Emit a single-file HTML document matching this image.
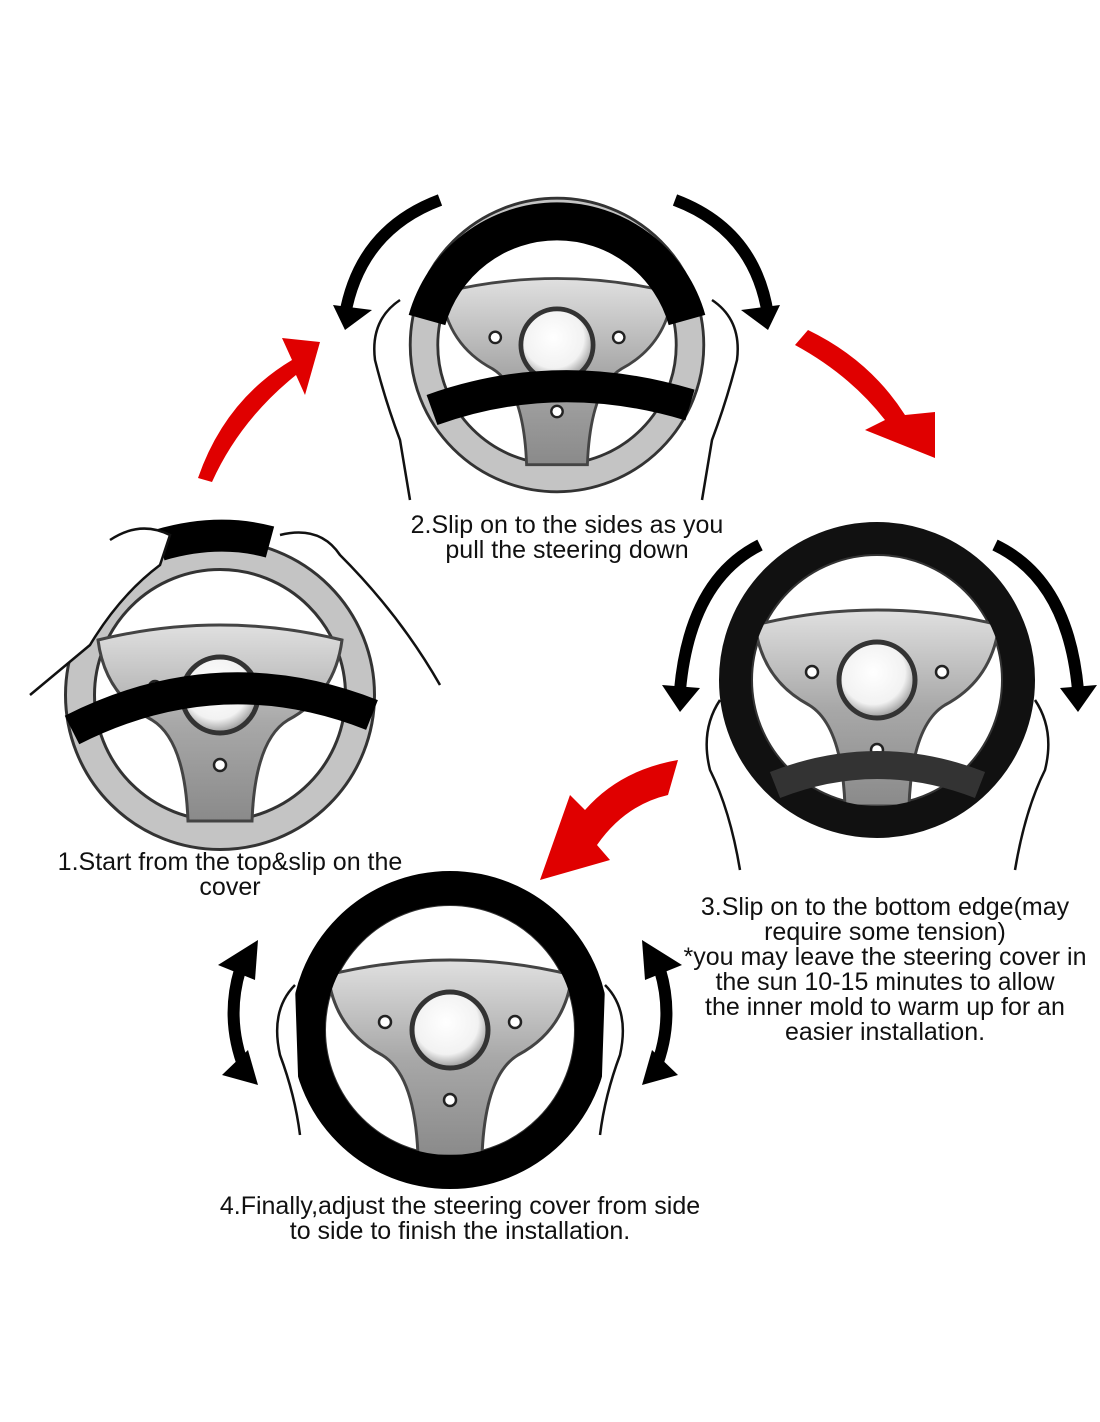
<!DOCTYPE html>
<html><head><meta charset="utf-8"><style>
html,body{margin:0;padding:0;background:#fff;}
body{width:1100px;height:1422px;overflow:hidden;position:relative;font-family:"Liberation Sans","DejaVu Sans",sans-serif;}
.t{position:absolute;font-size:25px;color:#111;text-align:center;line-height:25px;white-space:nowrap;}
</style></head><body>
<svg width="1100" height="1422" style="position:absolute;left:0;top:0">
<defs>
<linearGradient id="hg" x1="0" y1="0" x2="0" y2="1">
<stop offset="0" stop-color="#e0e0e0"/><stop offset="0.5" stop-color="#a8a8a8"/><stop offset="1" stop-color="#8a8a8a"/></linearGradient>
<radialGradient id="cg" cx="0.45" cy="0.4" r="0.6"><stop offset="0" stop-color="#fff"/><stop offset="0.7" stop-color="#f2f2f2"/><stop offset="1" stop-color="#999"/></radialGradient>
<g id="wheel">
<circle r="140" fill="none" stroke="#333" stroke-width="32"/>
<circle r="140" fill="none" stroke="#c4c4c4" stroke-width="26"/>
<path d="M-122,-55 Q0,-85 122,-55 Q115,0 68,25 Q35,45 32,126 L-32,126 Q-35,45 -68,25 Q-115,0 -122,-55Z" fill="url(#hg)" stroke="#444" stroke-width="3"/>
<circle r="38" fill="url(#cg)" stroke="#333" stroke-width="5"/>
<circle cx="-65" cy="-8" r="6" fill="#fff" stroke="#222" stroke-width="2.5"/>
<circle cx="65" cy="-8" r="6" fill="#fff" stroke="#222" stroke-width="2.5"/>
<circle cx="0" cy="70" r="6" fill="#fff" stroke="#222" stroke-width="2.5"/>
</g>
</defs>

<!-- Wheel 2 -->
<g transform="translate(557,345) scale(0.95)"><use href="#wheel"/></g>
<path d="M427,320 A135,135 0 0 1 687,320" fill="none" stroke="#000" stroke-width="38"/>
<path d="M432,410 Q557,365 690,405" fill="none" stroke="#000" stroke-width="32"/>
<path d="M345,315 Q360,230 440,200" fill="none" stroke="#000" stroke-width="12"/>
<polygon points="333,305 372,310 345,330" fill="#000"/>
<path d="M768,315 Q755,230 675,200" fill="none" stroke="#000" stroke-width="12"/>
<polygon points="780,305 741,310 768,330" fill="#000"/>
<path d="M400,300 q-30,20 -25,60 q10,40 25,80 l10,60" fill="#fff" stroke="#111" stroke-width="2.5"/>
<path d="M712,300 q30,20 25,60 q-10,40 -25,80 l-10,60" fill="#fff" stroke="#111" stroke-width="2.5"/>

<!-- Wheel 1 -->
<use href="#wheel" x="220" y="695"/>
<path d="M72,730 Q220,655 372,715" fill="none" stroke="#000" stroke-width="32"/>
<path d="M160,545 Q218,528 270,542" fill="none" stroke="#000" stroke-width="32"/>
<path d="M110,540 q30,-20 60,-5 l-10,30 q-40,30 -70,80 l-60,50" fill="#fff" stroke="#111" stroke-width="2.5"/>
<path d="M280,535 q40,-10 60,20 q60,60 100,130" fill="none" stroke="#111" stroke-width="2.5"/>

<!-- Wheel 3 -->
<use href="#wheel" x="877" y="680"/>
<circle cx="877" cy="680" r="142" fill="none" stroke="#111" stroke-width="32"/>
<path d="M775,785 Q877,745 980,785" fill="none" stroke="#333" stroke-width="28"/>
<path d="M680,690 Q690,580 760,545" fill="none" stroke="#000" stroke-width="12"/>
<polygon points="662,685 700,688 680,712" fill="#000"/>
<path d="M1078,690 Q1068,580 995,545" fill="none" stroke="#000" stroke-width="12"/>
<polygon points="1097,685 1060,688 1078,712" fill="#000"/>
<path d="M720,700 q-20,30 -10,70 q20,40 30,100" fill="#fff" stroke="#111" stroke-width="2.5"/>
<path d="M1035,700 q20,30 10,70 q-20,40 -30,100" fill="#fff" stroke="#111" stroke-width="2.5"/>

<!-- Wheel 4 -->
<use href="#wheel" x="450" y="1030"/>
<circle cx="450" cy="1030" r="142" fill="none" stroke="#000" stroke-width="34"/>
<path d="M240,970 Q225,1020 245,1070" fill="none" stroke="#000" stroke-width="12"/>
<polygon points="218,965 258,940 255,980" fill="#000"/>
<polygon points="222,1075 258,1085 248,1050" fill="#000"/>
<path d="M660,970 Q675,1020 655,1070" fill="none" stroke="#000" stroke-width="12"/>
<polygon points="682,965 642,940 645,980" fill="#000"/>
<polygon points="678,1075 642,1085 652,1050" fill="#000"/>
<path d="M295,985 q-25,25 -15,70 q15,40 20,80" fill="#fff" stroke="#111" stroke-width="2.5"/>
<path d="M605,985 q25,25 15,70 q-15,40 -20,80" fill="#fff" stroke="#111" stroke-width="2.5"/>

<!-- Red arrows -->
<path d="M198,478 Q225,400 292,360 L282,338 L320,342 L305,395 L296,375 Q240,420 212,482Z" fill="#e00000"/>
<path d="M795,345 Q850,375 885,420 L865,430 L935,458 L935,412 L905,415 Q870,360 808,330Z" fill="#e00000"/>
<path d="M678,760 Q620,770 585,810 L570,795 L540,880 L610,860 L597,845 Q625,805 668,795Z" fill="#e00000"/>
</svg>

<div class="t" style="left:367px;top:513px;width:400px;">2.Slip on to the sides as you<br>pull the steering down</div>
<div class="t" style="left:30px;top:850px;width:400px;">1.Start from the top&amp;slip on the<br>cover</div>
<div class="t" style="left:660px;top:895px;width:450px;">3.Slip on to the bottom edge(may<br>require some tension)<br>*you may leave the steering cover in<br>the sun 10-15 minutes to allow<br>the inner mold to warm up for an<br>easier installation.</div>
<div class="t" style="left:160px;top:1194px;width:600px;">4.Finally,adjust the steering cover from side<br>to side to finish the installation.</div>
</body></html>
